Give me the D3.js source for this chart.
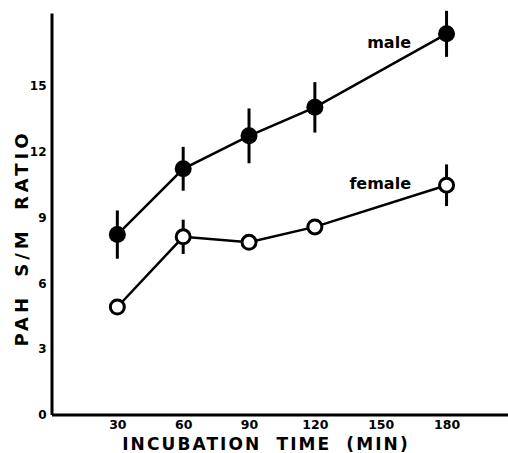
<!DOCTYPE html>
<html>
<head>
<meta charset="utf-8">
<script src="https://cdn.jsdelivr.net/npm/d3@7"></script>
<style>
  body { margin: 0; background: #fff; }
  svg { display: block; }
  text { font-family: "DejaVu Sans", sans-serif; font-weight: bold; fill: #000; }
</style>
</head>
<body>
<div id="chart"></div>
<script>
// incubation times (min)
const times = [30, 60, 90, 120, 180];
const maleRatio = [8.2, 11.2, 12.7, 14.0, 17.35];
const maleErr = [1.1, 1.0, 1.25, 1.15, 1.05];
const femaleRatio = [4.9, 8.1, 7.85, 8.55, 10.45];
const femaleErr = [0, 0.78, 0, 0, 0.95];
const yTicks = [0, 3, 6, 9, 12, 15];
const xTicks = [30, 60, 90, 120, 150, 180];

const width = 508, height = 453;
const svg = d3.select('#chart').append('svg')
    .attr('width', width)
    .attr('height', height);

const x = d3.scaleLinear().domain([0, 208]).range([51.5, 508]);
const y = d3.scaleLinear().domain([0, 18.3]).range([414.5, 13]);

// axes
const yAxis = svg.append('g')
    .attr('transform', 'translate(' + x(0) + ',0)')
    .call(d3.axisLeft(y).tickValues(yTicks).tickSize(0).tickPadding(5));
yAxis.select('.domain').attr('stroke', '#000').attr('stroke-width', 3);
yAxis.selectAll('text').style('font-size', '12px').attr('dy', '0.35em');

const xAxis = svg.append('g')
    .attr('transform', 'translate(0,' + y(0) + ')')
    .call(d3.axisBottom(x).tickValues(xTicks).tickSize(0).tickPadding(6));
xAxis.select('.domain').attr('stroke', '#000').attr('stroke-width', 3);
xAxis.selectAll('text').style('font-size', '12.5px').attr('dy', '0.65em');

// axis titles
svg.append('text')
    .attr('x', 266)
    .attr('y', 449.5)
    .attr('text-anchor', 'middle')
    .style('font-size', '17px')
    .style('letter-spacing', '2.1px')
    .style('word-spacing', '7px')
    .text('INCUBATION TIME (MIN)');

svg.append('text')
    .attr('transform', 'translate(28,238) rotate(-90)')
    .attr('text-anchor', 'middle')
    .style('font-size', '18px')
    .style('letter-spacing', '4px')
    .style('word-spacing', '7px')
    .text('PAH S/M RATIO');

const line = d3.line()
    .x((d, i) => x(times[i]))
    .y(d => y(d));

const drawSeries = (vals, errs, filled) => {
    const g = svg.append('g');
    g.append('path')
        .datum(vals)
        .attr('fill', 'none')
        .attr('stroke', '#000')
        .attr('stroke-width', 2.5)
        .attr('d', line);
    g.selectAll('.err')
        .data(vals)
        .enter()
        .append('line')
        .attr('class', 'err')
        .attr('x1', (d, i) => x(times[i]))
        .attr('x2', (d, i) => x(times[i]))
        .attr('y1', (d, i) => y(d + errs[i]))
        .attr('y2', (d, i) => y(d - errs[i]))
        .attr('stroke', '#000')
        .attr('stroke-width', 3);
    g.selectAll('circle')
        .data(vals)
        .enter()
        .append('circle')
        .attr('cx', (d, i) => x(times[i]))
        .attr('cy', d => y(d))
        .attr('r', filled ? 8.5 : 7)
        .attr('fill', filled ? '#000' : '#fff')
        .attr('stroke', '#000')
        .attr('stroke-width', filled ? 0 : 3);
};

drawSeries(maleRatio, maleErr, true);
drawSeries(femaleRatio, femaleErr, false);

// series labels
svg.append('text')
    .attr('x', 411)
    .attr('y', 48)
    .attr('text-anchor', 'end')
    .style('font-size', '16px')
    .text('male');
svg.append('text')
    .attr('x', 411)
    .attr('y', 189)
    .attr('text-anchor', 'end')
    .style('font-size', '16px')
    .text('female');
</script>
</body>
</html>
